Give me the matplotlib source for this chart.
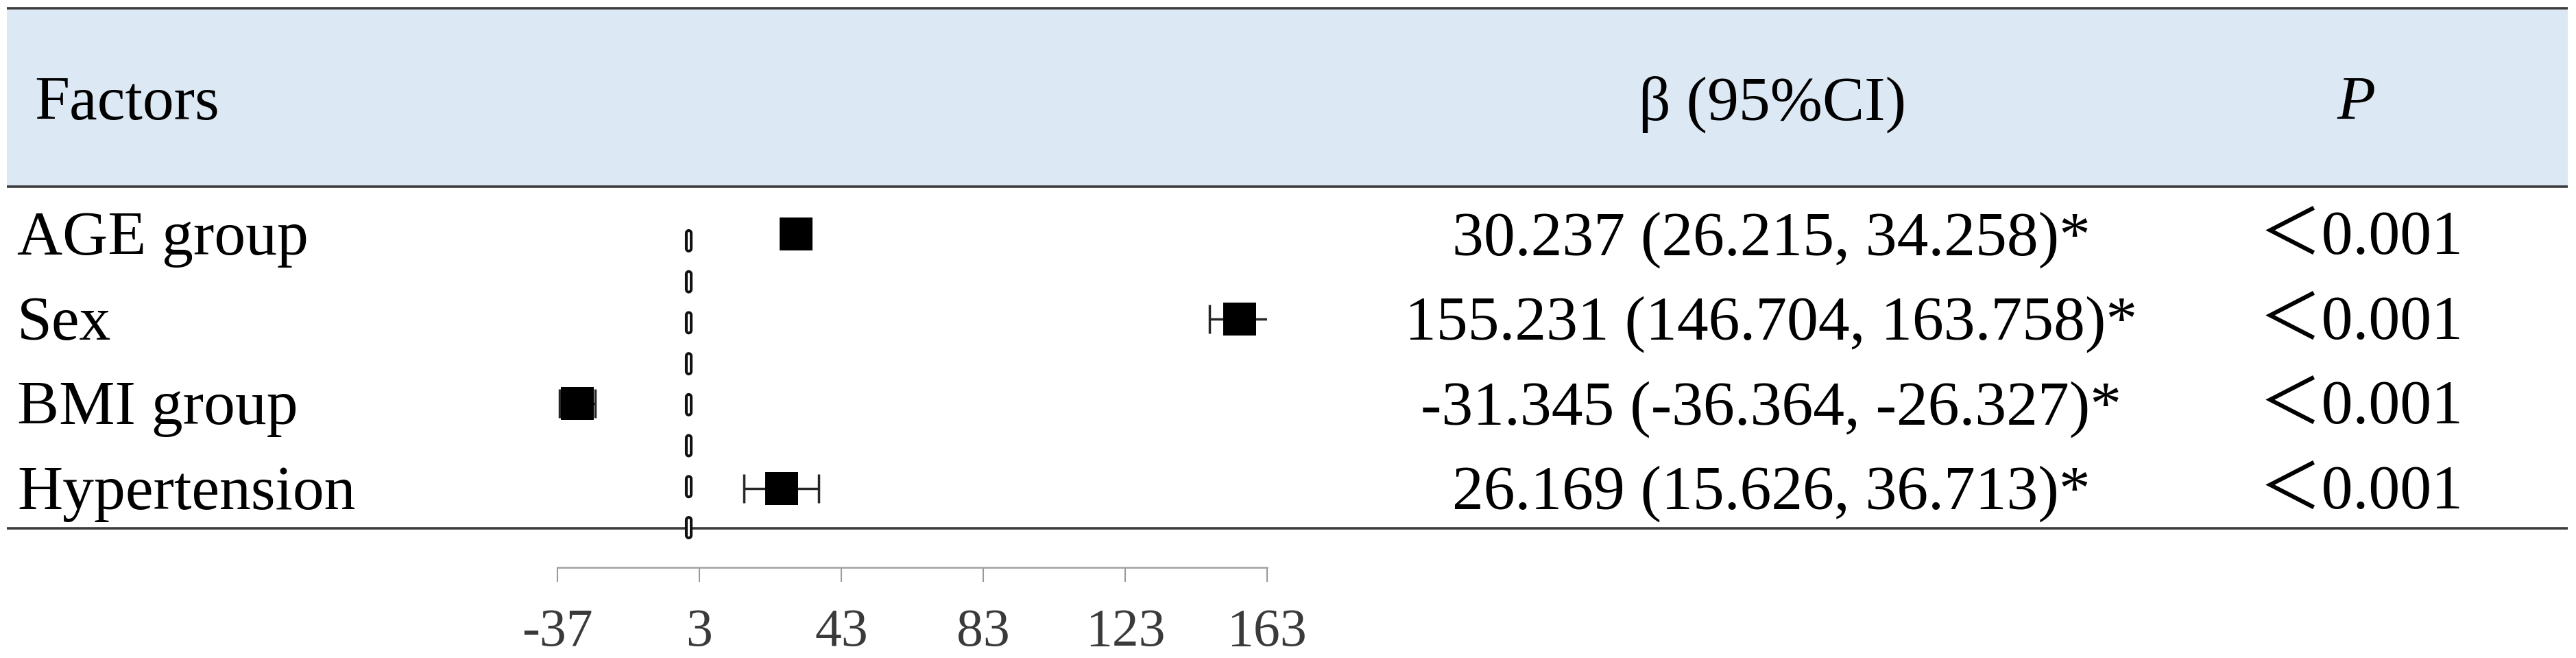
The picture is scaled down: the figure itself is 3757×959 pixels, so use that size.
import matplotlib
matplotlib.use("Agg")
import matplotlib.pyplot as plt
from matplotlib import transforms
from matplotlib.patches import Rectangle
import numpy as np

# data
factors = ["AGE group", "Sex", "BMI group", "Hypertension"]
beta = [30.237, 155.231, -31.345, 26.169]
ci_low = [26.215, 146.704, -36.364, 15.626]
ci_high = [34.258, 163.758, -26.327, 36.713]
p_text = ["＜0.001", "＜0.001", "＜0.001", "＜0.001"]
x_ticks = [-37, 3, 43, 83, 123, 163]

W, H = 3757, 959
DPI = 100
plt.rcParams['lines.scale_dashes'] = False
serif = ['Liberation Serif', 'Noto Sans CJK SC', 'DejaVu Sans']
FS = 66

fig = plt.figure(figsize=(W / DPI, H / DPI), dpi=DPI)

# background axes in pixel units for the table frame
bg = fig.add_axes([0, 0, 1, 1])
bg.set_xlim(0, W)
bg.set_ylim(H, 0)
bg.axis('off')
bg.add_patch(Rectangle((10, 13), 3735, 258, facecolor='#DCE9F5', lw=0))
for yy in (12, 272, 770):
    bg.plot([10, 3745], [yy, yy], color='#3c3c3c', lw=2.6, solid_capstyle='butt')

# forest plot axes
left, right, top, bottom = 813, 1848, 281, 827
ax = fig.add_axes([left / W, 1 - bottom / H, (right - left) / W, (bottom - top) / H])
ax.patch.set_alpha(0)
y = np.arange(len(factors))
ax.set_xlim(x_ticks[0], x_ticks[-1])
ax.set_ylim(3.935, -0.486)

# hollow dashed reference line at 0
for lw, col in ((8.0, '#111111'), (2.2, 'white')):
    ax.plot([0, 0], [-0.016, 3.757], color=col, lw=lw, dashes=(16.5, 26.5),
            dash_capstyle='round', zorder=2)

b = np.array(beta)
ax.errorbar(b, y, xerr=[b - np.array(ci_low), np.array(ci_high) - b], fmt='none',
            ecolor='#262626', elinewidth=2.5, capsize=15, capthick=2.5, zorder=3)
ax.plot(b, y, 's', color='black', markersize=34.6, markeredgewidth=0, zorder=4)

ax.set_xticks(x_ticks)
ax.set_xticklabels([str(t) for t in x_ticks], family=serif)
ax.set_yticks([])
for s in ('top', 'left', 'right'):
    ax.spines[s].set_visible(False)
ax.spines['bottom'].set_color('#a0a0a0')
ax.spines['bottom'].set_linewidth(1.8)
ax.tick_params(axis='x', length=15, width=1.5, color='#9a9a9a', pad=28,
               labelsize=56, labelcolor='#3a3a3a')

# text columns, baseline shifted so caps are centred on each row
cap_shift = -0.33 * FS
row_tr = transforms.offset_copy(transforms.blended_transform_factory(bg.transData, ax.transData),
                                fig=fig, y=cap_shift, units='points')
head_tr = transforms.offset_copy(bg.transData, fig=fig, y=cap_shift, units='points')

bg.text(50, 144, "Factors", transform=head_tr, fontsize=FS, family=serif, va='baseline', ha='left')
bg.text(2585, 144, "β (95%CI)", transform=head_tr, fontsize=FS, family=serif, va='baseline', ha='center')
bg.text(3437, 144, "P", transform=head_tr, fontsize=FS, family=serif, style='italic',
        va='baseline', ha='center')

for i in range(len(factors)):
    bg.text(25, y[i], factors[i], transform=row_tr, fontsize=FS, family=serif,
            va='baseline', ha='left')
    label = "%s (%s, %s)*" % (f"{beta[i]:.3f}", f"{ci_low[i]:.3f}", f"{ci_high[i]:.3f}")
    bg.text(2583, y[i], label, transform=row_tr, fontsize=FS, family=serif,
            va='baseline', ha='center')
    bg.text(3443, y[i], p_text[i], transform=row_tr, fontsize=FS, family=serif,
            va='baseline', ha='center')

fig.savefig("out.png", dpi=DPI, facecolor='white')
